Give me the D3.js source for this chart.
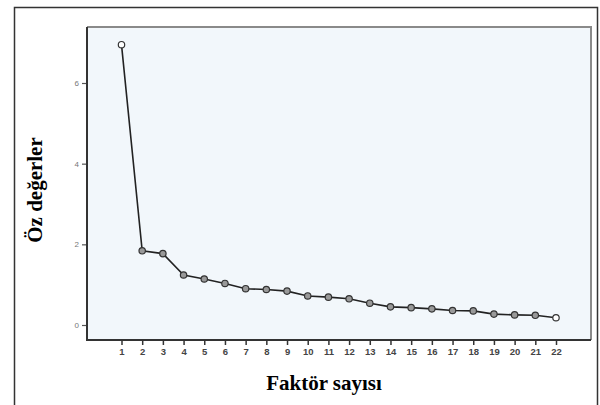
<!DOCTYPE html>
<html>
<head>
<meta charset="utf-8">
<script src="https://cdn.jsdelivr.net/npm/d3@7"></script>
<style>
  html, body { margin: 0; padding: 0; background: #fff; }
  #chart { width: 600px; height: 405px; }
</style>
</head>
<body>
<div id="chart"></div>
<script>
// scree plot: eigenvalues per factor
const factors = d3.range(1, 23);
const eigenvalues = [6.95, 1.84, 1.77, 1.24, 1.14, 1.03, 0.90, 0.88, 0.84, 0.72, 0.69,
  0.65, 0.54, 0.45, 0.43, 0.40, 0.36, 0.35, 0.27, 0.25, 0.24, 0.18];
const yTicks = [0, 2, 4, 6];
const xTitle = 'Faktör sayısı';
const yTitle = 'Öz değerler';

const width = 600, height = 405;
const plot = { left: 87, top: 27, right: 591, bottom: 340 };

const svg = d3.select('#chart').append('svg')
  .attr('width', width)
  .attr('height', height);

// outer frame (bottom runs off the image)
svg.append('path')
  .attr('d', `M14.5,410 V7.5 H597.5 V410`)
  .attr('fill', 'none')
  .attr('stroke', '#333')
  .attr('stroke-width', 1.5);

const x = d3.scaleLinear().domain([1, 22]).range([121.5, 556]);
const y = d3.scaleLinear().domain([0, 6]).range([325, 83]);

// plot background
svg.append('rect')
  .attr('x', plot.left).attr('y', plot.top)
  .attr('width', plot.right - plot.left).attr('height', plot.bottom - plot.top)
  .attr('fill', '#f2f7fb');

// top/right border lighter, left/bottom darker
svg.append('path')
  .attr('d', `M${plot.left},${plot.top} H${plot.right} V${plot.bottom}`)
  .attr('fill', 'none').attr('stroke', '#8a8a8a').attr('stroke-width', 2);

const yAxis = svg.append('g')
  .attr('transform', `translate(${plot.left},0)`)
  .call(d3.axisLeft(y).tickValues(yTicks).tickFormat(d3.format('d')).tickSize(5).tickPadding(3));
yAxis.select('.domain').remove();
yAxis.selectAll('line').attr('stroke', '#555').attr('stroke-width', 1.2);
yAxis.selectAll('text')
  .attr('font-family', 'Arial, sans-serif')
  .attr('font-size', 8)
  .attr('fill', '#777');

const xAxis = svg.append('g')
  .attr('transform', `translate(0,${plot.bottom})`)
  .call(d3.axisBottom(x).tickValues(factors).tickFormat(d3.format('d')).tickSize(5).tickPadding(3));
xAxis.select('.domain').remove();
xAxis.selectAll('line').attr('stroke', '#333').attr('stroke-width', 1.5);
xAxis.selectAll('text')
  .attr('font-family', 'Arial, sans-serif')
  .attr('font-size', 9.5)
  .attr('font-weight', 'bold')
  .attr('fill', '#444');

svg.append('path')
  .attr('d', `M${plot.left},${plot.top} V${plot.bottom} H${plot.right}`)
  .attr('fill', 'none').attr('stroke', '#333').attr('stroke-width', 2);

// line + markers
const line = d3.line()
  .x((d, i) => x(factors[i]))
  .y(d => y(d));

svg.append('path')
  .datum(eigenvalues)
  .attr('d', line)
  .attr('fill', 'none')
  .attr('stroke', '#222')
  .attr('stroke-width', 1.6);

svg.selectAll('circle.pt')
  .data(eigenvalues)
  .enter().append('circle')
  .attr('class', 'pt')
  .attr('cx', (d, i) => x(factors[i]))
  .attr('cy', d => y(d))
  .attr('r', 3.2)
  .attr('fill', (d, i) => (i === 0 || i === eigenvalues.length - 1) ? '#fff' : '#999')
  .attr('stroke', '#333')
  .attr('stroke-width', 1.2);

// titles
svg.append('text')
  .attr('x', 324).attr('y', 390)
  .attr('text-anchor', 'middle')
  .attr('font-family', '"Liberation Serif", "Times New Roman", serif')
  .attr('font-weight', 'bold')
  .attr('font-size', 21)
  .text(xTitle);

svg.append('text')
  .attr('transform', 'translate(42,190) rotate(-90)')
  .attr('text-anchor', 'middle')
  .attr('font-family', '"Liberation Serif", "Times New Roman", serif')
  .attr('font-weight', 'bold')
  .attr('font-size', 21)
  .text(yTitle);
</script>
</body>
</html>
